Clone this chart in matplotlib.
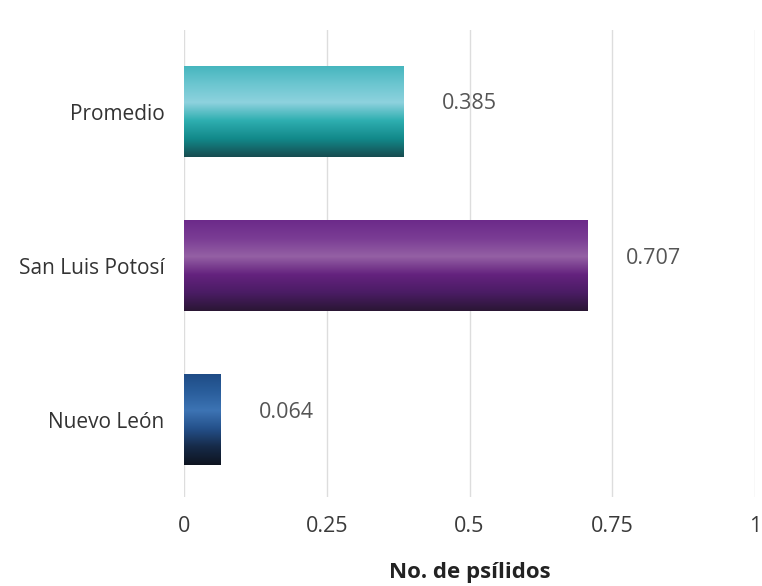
import numpy as np
import matplotlib.pyplot as plt
from matplotlib.colors import LinearSegmentedColormap

plt.rcParams['font.family'] = ['Open Sans', 'DejaVu Sans']

# data (bottom to top)
estados = ['Nuevo León', 'San Luis Potosí', 'Promedio']
valores = [0.064, 0.707, 0.385]
etiquetas = ['0.064', '0.707', '0.385']
xticks = [0, 0.25, 0.5, 0.75, 1]
xticklabels = ['0', '0.25', '0.5', '0.75', '1']

# vertical gradients, top -> bottom
gradientes = [
    ['#1f4c86', '#2a5e9c', '#3d74b4', '#24508a', '#162a48', '#0e1420'],
    ['#6c2a8a', '#7a3c94', '#9460a4', '#64227e', '#4a1c64', '#2a1634'],
    ['#46b6be', '#6cc6d0', '#8ed2de', '#2eaeb0', '#12898a', '#174c50'],
]

fig = plt.figure(figsize=(7.62, 5.86), dpi=100)
ax = fig.add_axes([184 / 762, 1 - 497 / 586, 571 / 762, 467 / 586])

alto = 0.59
bars = ax.barh(range(len(estados)), valores, height=alto, color='none', zorder=3)
for bar, cols in zip(bars, gradientes):
    cmap = LinearSegmentedColormap.from_list('g', cols)
    grad = np.linspace(0, 1, 256).reshape(-1, 1)
    x0, y0 = bar.get_x(), bar.get_y()
    w, h = bar.get_width(), bar.get_height()
    im = ax.imshow(grad, cmap=cmap, aspect='auto', extent=[x0, x0 + w, y0, y0 + h],
                   origin='upper', zorder=3)
    im.set_clip_path(bar)

for i, (v, t) in enumerate(zip(valores, etiquetas)):
    ax.text(v + 0.067, i + 0.05, t, va='center', ha='left', fontsize=15.5, color='#555555')

ax.set_xlim(0, 1)
ax.set_ylim(-0.5, 2.53)
ax.set_xticks(xticks)
ax.set_xticklabels(xticklabels, fontsize=15.5, color='#3a3a3a')
ax.set_yticks(range(len(estados)))
ax.set_yticklabels(estados, fontsize=15, color='#333333')
ax.tick_params(axis='x', length=0, pad=14)
ax.tick_params(axis='y', length=0, pad=14)
ax.grid(axis='x', color='#dddddd', linewidth=1, zorder=0)
ax.set_axisbelow(True)
for s in ax.spines.values():
    s.set_visible(False)
ax.set_xlabel('No. de psílidos', fontsize=16, fontweight='bold', color='#222222', labelpad=18)

plt.savefig('out.png', dpi=100)
